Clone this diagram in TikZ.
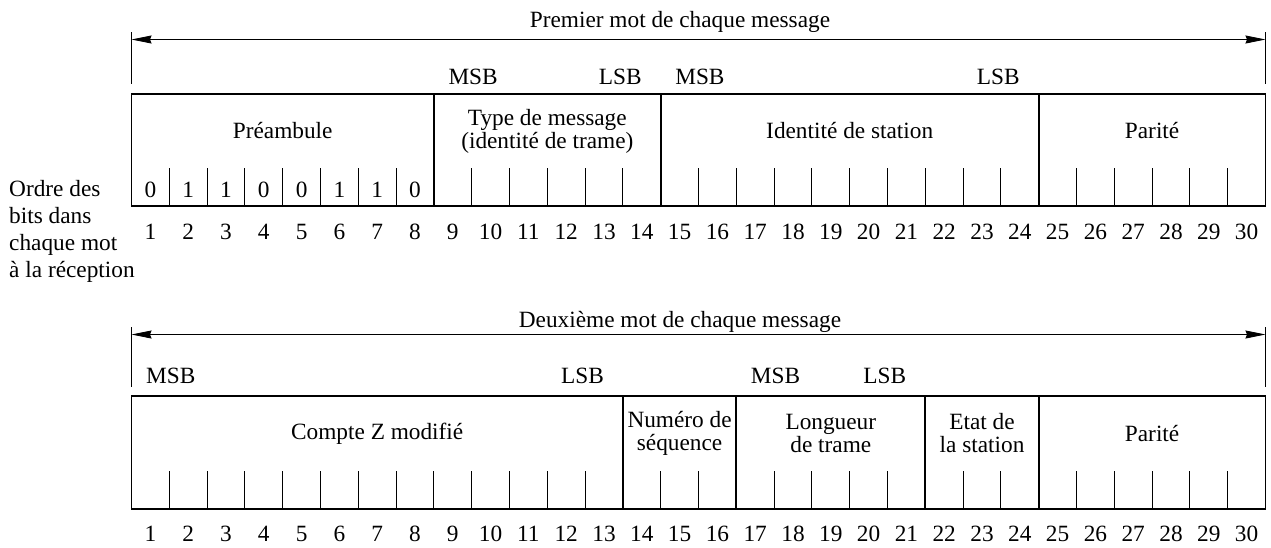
\documentclass[tikz,border=0pt]{standalone}
\usepackage{fontspec}
\setmainfont{Liberation Serif}
\usetikzlibrary{arrows.meta}

\begin{document}
\begin{tikzpicture}[x=1pt,y=-1pt,
  every node/.style={inner sep=0pt, font=\fontsize{23.3}{23}\selectfont},
  frame/.style={line width=1.8pt},
  tick/.style={line width=0.9pt},
  bar/.style={line width=0.9pt},
  span/.style={line width=0.9pt,
    {Stealth[length=20pt,width=8pt,inset=1.5pt]}-{Stealth[length=20pt,width=8pt,inset=1.5pt]}},
  field/.style={align=center},
  num/.style={anchor=base},
  msb/.style={anchor=base west},
  lsb/.style={anchor=base east}]
\useasboundingbox (0,0) rectangle (1271,547);
% bit grid: left edge and width of one bit
\def\xo{131.5}
\def\bw{37.8}

% ---------- first word ----------
\node[anchor=base] (t1) at (680,27) {Premier mot de chaque message};
\coordinate (t1l) at (\xo,39.5);
\coordinate (t1r) at ({\xo+30*\bw},39.5);
\draw[bar] (\xo,32) -- (\xo,84);
\draw[bar] ({\xo+30*\bw},32) -- ({\xo+30*\bw},84);
\draw[span] (t1l) -- (t1r);

\node[msb] (m1a) at ({\xo+8.5*\bw-4.5},84) {MSB};
\node[lsb] (l1a) at ({\xo+13.5*\bw},84) {LSB};
\node[msb] (m1b) at ({\xo+14.5*\bw-4.5},84) {MSB};
\node[lsb] (l1b) at ({\xo+23.5*\bw},84) {LSB};

\foreach \k in {1,...,29}
  \draw[tick] ({\xo+\k*\bw},168) -- ({\xo+\k*\bw},206);
\draw[frame] (\xo,94) rectangle ({\xo+30*\bw},206);
\foreach \k in {8,14,24}
  \draw[frame] ({\xo+\k*\bw},94) -- ({\xo+\k*\bw},206);

\node[field] (pre) at ({\xo+4*\bw},131) {Préambule};
\node[field] (typ) at ({\xo+11*\bw},131) {Type de message\\(identité de trame)};
\node[field] (ids) at ({\xo+19*\bw},131) {Identité de station};
\node[field] (par1) at ({\xo+27*\bw},131) {Parité};

\foreach \i/\v in {1/0,2/1,3/1,4/0,5/0,6/1,7/1,8/0}
  \node[num] (pb\i) at ({\xo+(\i-0.5)*\bw},197) {\v};
\foreach \i in {1,...,30}
  \node[num] (na\i) at ({\xo+(\i-0.5)*\bw},239) {\i};

% ---------- side caption ----------
\node[anchor=north west, align=left, font=\fontsize{23.3}{27}\selectfont]
  (order) at (9,180) {Ordre des\\bits dans\\chaque mot\\à la réception};

% ---------- second word ----------
\node[anchor=base] (t2) at (680,327) {Deuxième mot de chaque message};
\coordinate (t2l) at (\xo,334.5);
\coordinate (t2r) at ({\xo+30*\bw},334.5);
\draw[bar] (\xo,327) -- (\xo,387);
\draw[bar] ({\xo+30*\bw},327) -- ({\xo+30*\bw},387);
\draw[span] (t2l) -- (t2r);

\node[msb] (m2a) at ({\xo+0.5*\bw-4.5},383) {MSB};
\node[lsb] (l2a) at ({\xo+12.5*\bw},383) {LSB};
\node[msb] (m2b) at ({\xo+16.5*\bw-4.5},383) {MSB};
\node[lsb] (l2b) at ({\xo+20.5*\bw},383) {LSB};

\foreach \k in {1,...,29}
  \draw[tick] ({\xo+\k*\bw},471) -- ({\xo+\k*\bw},509);
\draw[frame] (\xo,396) rectangle ({\xo+30*\bw},509);
\foreach \k in {13,16,21,24}
  \draw[frame] ({\xo+\k*\bw},396) -- ({\xo+\k*\bw},509);

\node[field] (cz) at ({\xo+6.5*\bw},433.5) {Compte Z modifié};
\node[field] (seq) at ({\xo+14.5*\bw},433.5) {Numéro de\\séquence};
\node[field] (lon) at ({\xo+18.5*\bw},433.5) {Longueur\\de trame};
\node[field] (eta) at ({\xo+22.5*\bw},433.5) {Etat de\\la station};
\node[field] (par2) at ({\xo+27*\bw},433.5) {Parité};

\foreach \i in {1,...,30}
  \node[num] (nb\i) at ({\xo+(\i-0.5)*\bw},541) {\i};
\end{tikzpicture}
\end{document}
